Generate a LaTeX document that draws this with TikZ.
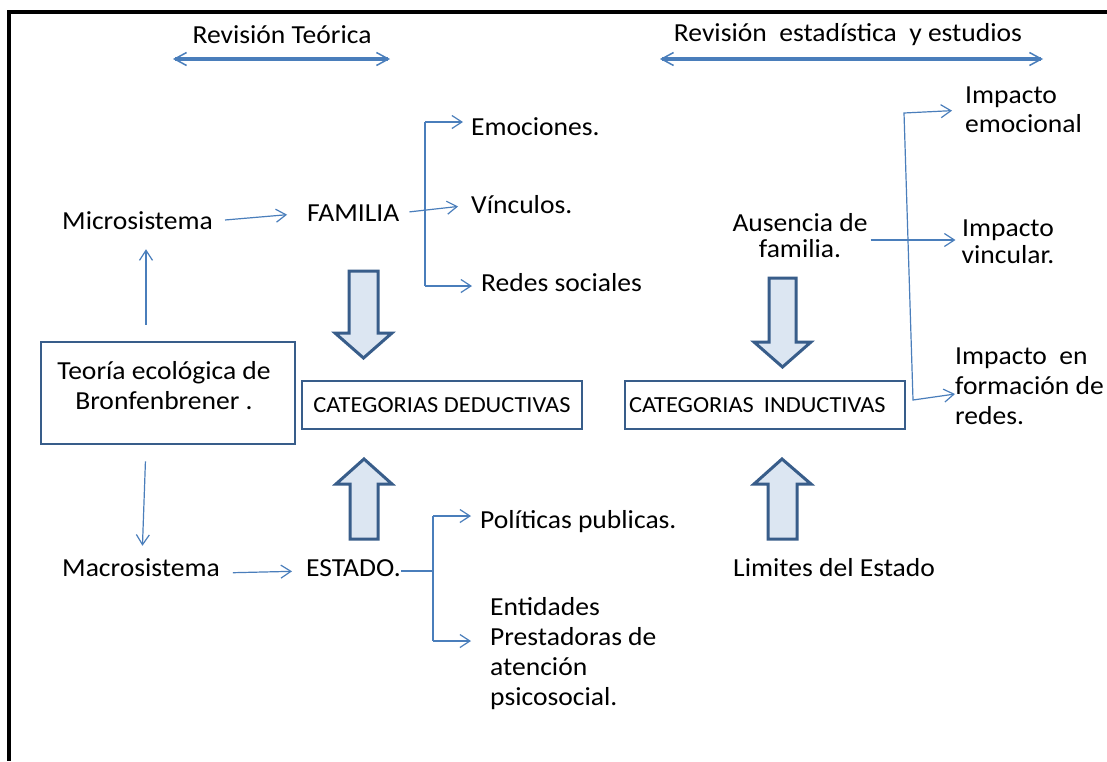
\documentclass[tikz,border=0pt]{standalone}
\usepackage{fontspec}
\setmainfont{Carlito}[FakeStretch=1.06]
\usetikzlibrary{arrows.meta}
\definecolor{lineblue}{HTML}{4A7EBB}
\definecolor{boxblue}{HTML}{385D8A}
\definecolor{arrowfill}{HTML}{DCE6F2}
\newcommand\mainfs{\fontsize{26}{30}\selectfont}
\newcommand\catfs{\fontsize{23}{27}\selectfont}
\begin{document}
\begin{tikzpicture}[x=1pt,y=-1pt,
  txt/.style={inner sep=0pt, font=\mainfs},
  cline/.style={draw=lineblue, line width=1.2pt},
  conn/.style={cline, -{Straight Barb[length=10pt,width=13pt,line width=1.2pt]}},
  hdr/.style={draw=lineblue, line width=3.2pt,
     {Straight Barb[length=12pt,width=13pt,line width=1.5pt]}-{Straight Barb[length=12pt,width=13pt,line width=1.5pt]}},
  catbox/.style={draw=boxblue, line width=2.8pt, font=\catfs, inner ysep=0pt, minimum height=48pt},
  blockarrow/.style={draw=boxblue, fill=arrowfill, line width=3pt, line join=miter}
]
\useasboundingbox (0,0) rectangle (1107,761);
\fill[white] (0,0) rectangle (1107,761);
% frame
\draw[line width=4pt, line join=miter] (1107,12) -- (9,12) -- (9,761);

% headers
\node[txt] (rt) at (282,35) {Revisión Teórica};
\node[txt] (re) at (848,35) {Revisión\ \ estadística\ \ y estudios};
\coordinate (h1a) at (173,59); \coordinate (h1b) at (390,59);
\coordinate (h2a) at (660,59); \coordinate (h2b) at (1043,59);
\draw[hdr] (h1a) -- (h1b);
\draw[hdr] (h2a) -- (h2b);

% left column
\node[txt, anchor=west] (mic) at (62,221) {Microsistema};
\node[txt, anchor=west] (fam) at (307,213) {FAMILIA};
\node[txt, anchor=west] (emo) at (471,127) {Emociones.};
\node[txt, anchor=west] (vin) at (471,205) {Vínculos.};
\node[txt, anchor=west] (red) at (481,283) {Redes sociales};

\node[draw=boxblue, line width=2.8pt, minimum width=254pt, minimum height=102pt, inner sep=0pt] (teo) at (168,393) {};
\node[txt, align=center] (teot) at (164,386) {Teoría ecológica de\\Bronfenbrener .};

\node[catbox, minimum width=280pt] (ded) at (442,405) {CATEGORIAS DEDUCTIVAS};
\node[catbox, text width=272pt, inner xsep=4pt, align=left] (ind) at (765,405) {CATEGORIAS\hspace{10pt}INDUCTIVAS};

\node[txt, anchor=west] (mac) at (62,568) {Macrosistema};
\node[txt, anchor=west] (est) at (306,568) {ESTADO.};
\node[txt, anchor=west] (pol) at (480,522) {Políticas publicas.};
\node[txt, anchor=west, align=left] (ent) at (490,654) {Entidades\\Prestadoras de\\atención\\psicosocial.};

% right column
\node[txt, align=center, font=\fontsize{26}{26}\selectfont] (aus) at (800,236) {Ausencia de\\familia.};
\node[txt, align=left, font=\fontsize{26}{29}\selectfont, anchor=west] (ie) at (965,110) {Impacto\\emocional};
\node[txt, align=center, font=\fontsize{26}{27}\selectfont] (iv) at (1008,242) {Impacto\\vincular.};
\node[txt, align=left, anchor=west] (ir) at (955,386) {Impacto\ \ en\\formación de\\redes.};
\node[txt, anchor=west] (lim) at (733,568) {Limites del Estado};

% connectors left
\coordinate (xa) at (146,0); \coordinate (xb) at (142,0);
\draw[conn, shorten <=16pt, shorten >=19pt] (teo.north -| xa) -- (mic.south -| xa);
\draw[conn, shorten <=16pt, shorten >=13pt] (teo.south -| xa) -- (mac.north -| xb);
\draw[conn, shorten <=12pt, shorten >=20pt] (mic.east) -- (fam.west);
\draw[conn, shorten <=10pt, shorten >=13pt] (fam.east) -- (vin.west);
\coordinate (fb1) at (425,122); \coordinate (fb2) at (425,286);
\draw[cline] (fb1) -- (fb2);
\draw[conn, shorten >=8pt] (fb1) -- (fb1 -| emo.west);
\draw[conn, shorten >=9pt] (fb2) -- (fb2 -| red.west);

\draw[conn, shorten <=13pt, shorten >=14pt] ([yshift=-5pt]mac.east) -- ([yshift=-3pt]est.west);
\coordinate (eb1) at (433,516); \coordinate (eb2) at (433,641);
\draw[cline] ([yshift=-3pt]est.east) -- ([yshift=-3pt]est.east -| eb1);
\draw[cline] (eb1) -- (eb2);
\draw[conn, shorten >=9pt] (eb1) -- (eb1 -| pol.west);
\draw[conn, shorten >=19pt] (eb2) -- (eb2 -| ent.west);

% connectors right
\draw[conn, shorten <=3pt, shorten >=6pt] ([yshift=-4pt]aus.east) -- ([yshift=-4pt]aus.east -| iv.west);
\coordinate (r1) at (904,113); \coordinate (r2) at (913,400);
\draw[cline, {Straight Barb[length=10pt,width=13pt,line width=1.2pt]}-{Straight Barb[length=10pt,width=13pt,line width=1.2pt]}, shorten >=13pt]
  ([yshift=-8pt]ir.west) -- (r2) -- (r1) -- (ie.west);

% block arrows
\draw[blockarrow] (349,271) -- (378,271) -- (378,333) -- (392,333) -- (363.5,358) -- (335,333) -- (349,333) -- cycle;
\draw[blockarrow] (769,278) -- (796,278) -- (796,342) -- (811,342) -- (782.5,367) -- (754,342) -- (769,342) -- cycle;
\draw[blockarrow] (350,539) -- (378,539) -- (378,484) -- (392,484) -- (364,459) -- (336,484) -- (350,484) -- cycle;
\draw[blockarrow] (768,539) -- (797,539) -- (797,484) -- (811,484) -- (782,459) -- (754,484) -- (768,484) -- cycle;
\end{tikzpicture}
\end{document}
